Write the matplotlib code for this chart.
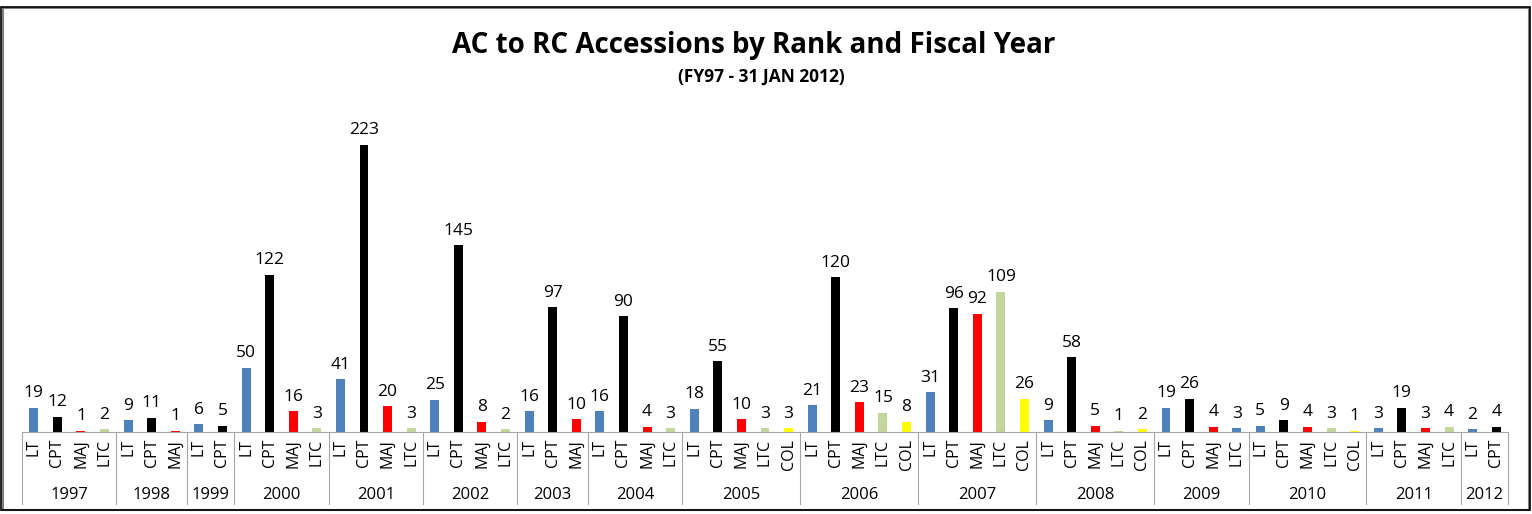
import matplotlib.pyplot as plt
from matplotlib.patches import Rectangle
from matplotlib.transforms import blended_transform_factory

plt.rcParams['font.family'] = ['Open Sans', 'DejaVu Sans']

years = ["1997", "1998", "1999", "2000", "2001", "2002", "2003", "2004",
         "2005", "2006", "2007", "2008", "2009", "2010", "2011", "2012"]
ranks = [
    ["LT", "CPT", "MAJ", "LTC"],
    ["LT", "CPT", "MAJ"],
    ["LT", "CPT"],
    ["LT", "CPT", "MAJ", "LTC"],
    ["LT", "CPT", "MAJ", "LTC"],
    ["LT", "CPT", "MAJ", "LTC"],
    ["LT", "CPT", "MAJ"],
    ["LT", "CPT", "MAJ", "LTC"],
    ["LT", "CPT", "MAJ", "LTC", "COL"],
    ["LT", "CPT", "MAJ", "LTC", "COL"],
    ["LT", "CPT", "MAJ", "LTC", "COL"],
    ["LT", "CPT", "MAJ", "LTC", "COL"],
    ["LT", "CPT", "MAJ", "LTC"],
    ["LT", "CPT", "MAJ", "LTC", "COL"],
    ["LT", "CPT", "MAJ", "LTC"],
    ["LT", "CPT"],
]
counts = [
    [19, 12, 1, 2],
    [9, 11, 1],
    [6, 5],
    [50, 122, 16, 3],
    [41, 223, 20, 3],
    [25, 145, 8, 2],
    [16, 97, 10],
    [16, 90, 4, 3],
    [18, 55, 10, 3, 3],
    [21, 120, 23, 15, 8],
    [31, 96, 92, 109, 26],
    [9, 58, 5, 1, 2],
    [19, 26, 4, 3],
    [5, 9, 4, 3, 1],
    [3, 19, 3, 4],
    [2, 4],
]
rank_colors = {"LT": "#4F81BD", "CPT": "#000000", "MAJ": "#FF0000",
               "LTC": "#C3D69B", "COL": "#FFFF00"}

fig = plt.figure(figsize=(15.32, 5.14), dpi=100)
ax = fig.add_axes([22/1532, 82/514, 1486/1532, 322/514])
tr = blended_transform_factory(ax.transData, ax.transAxes)

x = 0
for yi, year in enumerate(years):
    start = x
    for r, v in zip(ranks[yi], counts[yi]):
        c = rank_colors[r]
        # the 2009 LTC bar is drawn blue in the original
        if year == "2009" and r == "LTC":
            c = rank_colors["LT"]
        ax.bar(x, v, width=0.38, color=c)
        ax.text(x, v + 5, str(v), ha="center", va="bottom", fontsize=12.5)
        ax.text(x, -0.022, r, transform=tr, rotation=90, ha="center", va="top", fontsize=11.5)
        x += 1
    ax.text((start + x - 1) / 2, -0.195, year, transform=tr, ha="center", va="center",
            fontsize=12)
    ax.plot([start - 0.5, start - 0.5], [0, -0.225], transform=tr, color="#A6A6A6",
            lw=0.8, clip_on=False)
ax.plot([x - 0.5, x - 0.5], [0, -0.225], transform=tr, color="#A6A6A6", lw=0.8, clip_on=False)

ax.set_xlim(-0.5, x - 0.5)
ax.set_ylim(0, 250)
ax.set_xticks([])
ax.set_yticks([])
for s in ["top", "right", "left"]:
    ax.spines[s].set_visible(False)
ax.spines["bottom"].set_color("#A6A6A6")

fig.text(754/1532, 1 - 45/514, "AC to RC Accessions by Rank and Fiscal Year", ha="center",
         va="center", fontsize=20, fontweight="bold")
fig.text(761/1532, 1 - 77/514, "(FY97 - 31 JAN 2012)", ha="center", va="center",
         fontsize=12.5, fontweight="bold")

# outer frame
fig.add_artist(Rectangle((3/1532, 4/514), 1526/1532, 502/514, transform=fig.transFigure,
                         fill=False, edgecolor="#808080", lw=1.5))
fig.add_artist(Rectangle((1.5/1532, 4/514), 1528/1532, 503/514, transform=fig.transFigure,
                         fill=False, edgecolor="#000000", lw=1.2))

fig.savefig("out.png", dpi=100)
